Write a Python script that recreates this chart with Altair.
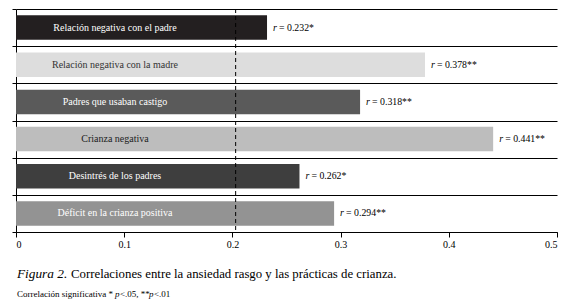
import altair as alt
import pandas as pd

categories = [
    "Relación negativa con el padre",
    "Relación negativa con la madre",
    "Padres que usaban castigo",
    "Crianza negativa",
    "Desintrés de los padres",
    "Déficit en la crianza positiva",
]
r_values = [0.232, 0.378, 0.318, 0.441, 0.262, 0.294]
significance = ["*", "**", "**", "**", "*", "**"]
x_ticks = [0, 0.1, 0.2, 0.3, 0.4, 0.5]
reference_value = 0.203
caption_italic = "Figura 2."
caption_text = "Correlaciones entre la ansiedad rasgo y las prácticas de crianza."
footnote_parts = ["Correlación significativa *", "p", "<.05, **", "p", "<.01"]

bar_colors = ["#231f20", "#dddddd", "#5a5a5a", "#bdbdbd", "#3e3e3e", "#939393"]
label_colors = ["#ffffff", "#333333", "#ffffff", "#222222", "#ffffff", "#ffffff"]
SERIF = "Liberation Serif"

df = pd.DataFrame({"cat": categories, "r": r_values, "sig": significance})
df["rtext"] = [f"= {v:.3f}{s}" for v, s in zip(r_values, significance)]

yenc = alt.Y(
    "cat:N",
    sort=None,
    scale=alt.Scale(paddingInner=0, paddingOuter=0),
    axis=alt.Axis(
        title=None, labels=False, tickBand="extent", grid=True,
        gridColor="#000000", gridOpacity=1, gridWidth=1,
        tickColor="#000000", tickSize=4, domainColor="#000000",
    ),
)
xscale = alt.Scale(domain=[0, 0.5], nice=False)
xaxis = alt.Axis(
    title=None, values=x_ticks, grid=False, tickColor="#000000", tickSize=5,
    domainColor="#000000", labelFont=SERIF, labelFontSize=10, labelColor="#000000",
    labelPadding=2,
    labelExpr="datum.value == 0 ? '0' : format(datum.value, '.1f')",
)

base = alt.Chart(df)

bars = base.mark_bar(height={"band": 0.66}).encode(
    x=alt.X("r:Q", scale=xscale, axis=xaxis),
    y=yenc,
    color=alt.Color("cat:N", scale=alt.Scale(domain=categories, range=bar_colors), legend=None),
)

inner = base.mark_text(font=SERIF, fontSize=10, align="center", baseline="middle").encode(
    x=alt.datum(0.0915),
    y=alt.Y("cat:N", sort=None),
    text="cat:N",
    color=alt.Color("cat:N", scale=alt.Scale(domain=categories, range=label_colors), legend=None),
)

r_letter = base.mark_text(font=SERIF, fontSize=10, fontStyle="italic", align="left",
                          baseline="middle", dx=6, color="#000000").encode(
    x="r:Q", y=alt.Y("cat:N", sort=None), text=alt.value("r"),
)
r_value = base.mark_text(font=SERIF, fontSize=9.8, align="left", baseline="middle",
                         dx=12, color="#000000").encode(
    x="r:Q", y=alt.Y("cat:N", sort=None), text="rtext:N",
)

ref = alt.Chart(pd.DataFrame({"v": [reference_value]})).mark_rule(
    color="#000000", strokeWidth=1, strokeDash=[4, 3]
).encode(x="v:Q")

one = pd.DataFrame({"a": [0]})


def note(text, x, y, size, italic=False):
    kw = dict(font=SERIF, fontSize=size, align="left", baseline="middle", color="#000000", text=text)
    if italic:
        kw["fontStyle"] = "italic"
    return alt.Chart(one).mark_text(**kw).encode(x=alt.value(x), y=alt.value(y))


notes = [
    note(caption_italic, 1, 265, 13.3, True),
    note(caption_text, 55, 265, 12.8),
    note(footnote_parts[0], 1, 285, 9),
    note(footnote_parts[1], 99, 285, 9, True),
    note(footnote_parts[2], 104, 285, 9),
    note(footnote_parts[3], 133, 285, 9, True),
    note(footnote_parts[4], 138, 285, 9),
]

chart = alt.layer(bars, inner, r_letter, r_value, ref, *notes).resolve_scale(
    color="independent"
).properties(
    width=541, height=223,
    autosize=alt.AutoSizeParams(type="none"),
    padding={"left": 16, "top": 9, "right": 12, "bottom": 75},
    background="#ffffff",
).configure_view(stroke=None)

chart.save("out.html", embed_options={"renderer": "svg", "actions": False})
